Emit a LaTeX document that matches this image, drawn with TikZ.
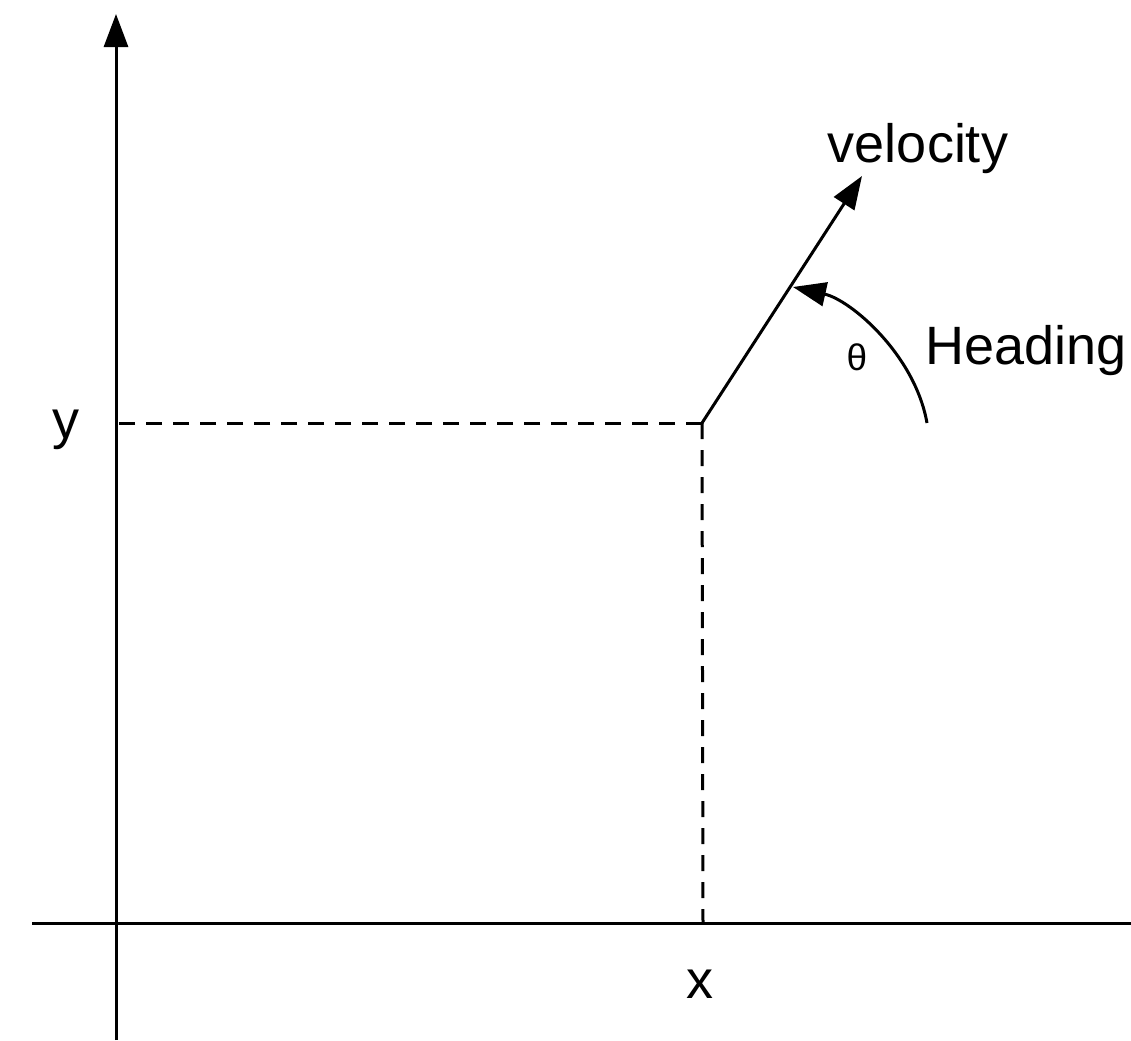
\documentclass[tikz,border=0pt]{standalone}
\usepackage{fontspec}
\setmainfont{Liberation Sans}
\usetikzlibrary{arrows.meta}
\tikzset{
  >={Triangle[length=16.5pt, width=12pt]},
  axisline/.style={line width=1.5pt, draw=black},
  guide/.style={line width=1.5pt, draw=black, dash pattern=on 8pt off 5.5pt},
  flow/.style={->, line width=1.5pt, draw=black},
  biglabel/.style={font=\fontsize{27}{32}\selectfont, inner sep=0pt, anchor=base},
  smalllabel/.style={font=\fontsize{18.5}{22}\selectfont, inner sep=0pt, anchor=base}
}

\begin{document}
\begin{tikzpicture}[x=0.5pt, y=-0.5pt]
  \useasboundingbox (0,0) rectangle (1131,1040);

  % axes
  \coordinate (ybot) at (116,1040);
  \coordinate (ytop) at (116,14);
  \coordinate (xleft) at (32,923);
  \coordinate (xright) at (1131,923);
  \draw[axisline, ->] (ybot) -- (ytop);
  \draw[axisline] (xleft) -- (xright);

  % position and its projections
  \coordinate (pos) at (702,423);
  \coordinate (ypos) at (116,423);
  \coordinate (xpos) at (703,923);
  \draw[guide] (pos) -- (ypos);
  \draw[guide] (pos) -- (xpos);

  % velocity and heading
  \coordinate (vtip) at (862,176);
  \draw[flow] (pos) -- (vtip);
  \coordinate (hstart) at (927,423);
  \coordinate (hend) at (793,287);
  \draw[flow] (hstart) .. controls (915,355) and (851,300) .. (hend);

  \node[biglabel] (vel) at (918,162) {velocity};
  \node[biglabel] (head) at (1026,364) {Heading};
  \node[smalllabel] (theta) at (857,370) {θ};
  \node[biglabel] (xlbl) at (700,998) {x};
  \node[biglabel] (ylbl) at (66,438) {y};

\end{tikzpicture}
\end{document}
